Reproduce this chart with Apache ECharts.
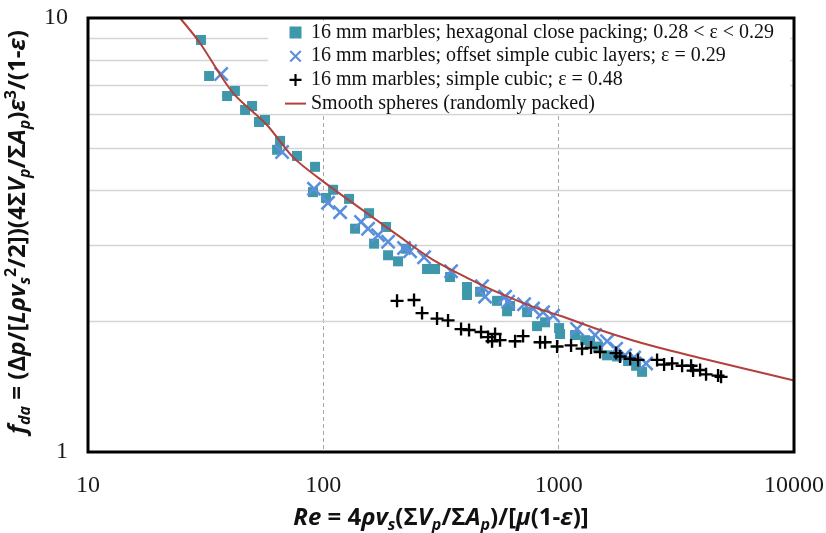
<!DOCTYPE html>
<html>
<head>
<meta charset="utf-8">
<script src="https://cdn.jsdelivr.net/npm/echarts@6/dist/echarts.min.js"></script>
<style>
  html, body { margin: 0; padding: 0; background: #fff; }
  #chart { width: 826px; height: 533px; }
</style>
</head>
<body>
<div id="chart"></div>
<script>
// Friction factor vs Reynolds number for 16 mm marble beds (log-log)

// Hexagonal close packing, 0.28 < eps < 0.29
const hcpRe = [30.2, 32.7, 39.0, 42.1, 46.5, 49.8, 53.3, 56.5, 65.5, 63.6, 77.3, 92.2, 90.4, 102.7, 110, 128.6,
  156.4, 136.4, 184.7, 164.3, 188.4, 207.7, 224.6, 275.9, 298.4, 345.6, 408, 408, 463.4, 547.3, 603.6, 621.6,
  734, 809.4, 875.6, 1004, 1014, 1174, 1295, 1359, 1471, 1606, 1771, 1972, 2133, 2262];
const hcpF = [8.90, 7.35, 6.61, 6.79, 6.14, 6.27, 5.76, 5.82, 5.21, 4.97, 4.81, 4.54, 3.97, 3.85, 4.02, 3.83,
  3.55, 3.27, 3.30, 3.02, 2.84, 2.75, 2.94, 2.64, 2.64, 2.53, 2.40, 2.30, 2.34, 2.23, 2.11, 2.17,
  2.10, 1.95, 1.99, 1.93, 1.87, 1.86, 1.81, 1.80, 1.75, 1.67, 1.66, 1.62, 1.58, 1.53];

// Offset simple cubic layers, eps = 0.29
const oscRe = [36.8, 66.8, 91.3, 104.7, 117.8, 144.6, 154.9, 170.8, 188.4, 220.3, 233.6, 267.9, 348.9, 472.6,
  486.7, 591.9, 609.5, 712.8, 778.3, 858.6, 946.6, 1197, 1428, 1606, 1754, 1915, 2092, 2352];
const oscF = [7.43, 4.91, 4.04, 3.75, 3.57, 3.39, 3.27, 3.16, 3.05, 2.95, 2.90, 2.81, 2.61, 2.41,
  2.28, 2.28, 2.22, 2.19, 2.14, 2.10, 2.06, 1.92, 1.86, 1.80, 1.73, 1.67, 1.65, 1.60];

// Simple cubic, eps = 0.48
const scRe = [205.7, 242.9, 262.7, 304.2, 338.8, 384.8, 416.1, 468, 501.2, 536.7, 521.2, 563.6, 652.8, 705.9,
  833.7, 875.6, 984.5, 1129, 1257, 1373, 1500, 1754, 1824, 2012, 2175, 2619, 2805, 3034, 3346, 3653, 3726,
  3990, 4230, 4757, 4899];
const scF = [2.23, 2.24, 2.09, 2.03, 2.01, 1.92, 1.91, 1.89, 1.84, 1.87, 1.80, 1.81, 1.80, 1.85,
  1.79, 1.79, 1.75, 1.76, 1.73, 1.74, 1.70, 1.69, 1.66, 1.64, 1.63, 1.63, 1.59, 1.60, 1.58, 1.58, 1.54,
  1.545, 1.51, 1.50, 1.49];

// Smooth spheres (randomly packed) correlation
const smoothRe = [24.6, 29.9, 41.3, 57.6, 74.3, 101.7, 153.4, 211.8, 292.6, 408, 563.6, 778.3, 1014, 1500,
  2071, 2888, 3990, 6508, 10000];
const smoothF = [10.0, 8.76, 6.72, 5.67, 4.78, 4.17, 3.55, 3.13, 2.77, 2.52, 2.32, 2.16, 2.06, 1.91,
  1.807, 1.72, 1.647, 1.545, 1.461];

// Horizontal reference lines and tick labels
const yGridValues = [2, 3, 4, 5, 6, 7, 8, 9];
const xTickLabels = ['10', '100', '1000', '10000'];
const yTickLabels = ['1', '10'];

const seriesNames = [
  '16 mm marbles; hexagonal close packing; 0.28 < ε < 0.29',
  '16 mm marbles; offset simple cubic layers; ε = 0.29',
  '16 mm marbles; simple cubic; ε = 0.48',
  'Smooth spheres (randomly packed)'
];

const zip = (xs, ys) => xs.map((x, i) => [x, ys[i]]);

const squarePath = 'path://M0,0H10V10H0Z';
const crossPath = 'path://M0,1.2L1.2,0L5,3.8L8.8,0L10,1.2L6.2,5L10,8.8L8.8,10L5,6.2L1.2,10L0,8.8L3.8,5Z';
const plusPath = 'path://M4.1,0H5.9V4.1H10V5.9H5.9V10H4.1V5.9H0V4.1H4.1Z';
const dashPath = 'path://M0,0H21V2H0Z';

const TEAL = '#3f97ab';
const BLUE = '#5a8fdc';
const RED = '#b2413d';

const TITLE_FONT = 'Open Sans';
const axisTitleRich = {
  n: { fontFamily: TITLE_FONT, fontWeight: 'bold', fontSize: 24, lineHeight: 30, color: '#111' },
  i: { fontFamily: TITLE_FONT, fontWeight: 'bold', fontStyle: 'italic', fontSize: 24, lineHeight: 30, color: '#111' },
  s: { fontFamily: TITLE_FONT, fontWeight: 'bold', fontStyle: 'italic', fontSize: 16, lineHeight: 17, verticalAlign: 'bottom', color: '#111' },
  p: { fontFamily: TITLE_FONT, fontWeight: 'bold', fontSize: 16, lineHeight: 17, verticalAlign: 'top', color: '#111' }
};

const chart = echarts.init(document.getElementById('chart'), null, { renderer: 'canvas' });

chart.setOption({
  animation: false,
  backgroundColor: '#fff',
  grid: {
    left: 88, right: 32, top: 18, bottom: 81, z: 10,
    containLabel: false, outerBoundsMode: 'none',
    show: true, borderColor: '#000', borderWidth: 3, backgroundColor: 'transparent'
  },
  legend: {
    data: [
      { name: seriesNames[0], icon: squarePath },
      { name: seriesNames[1], icon: crossPath },
      { name: seriesNames[2], icon: plusPath },
      { name: seriesNames[3], icon: dashPath }
    ],
    z: 2,
    orient: 'vertical',
    left: 268, top: 20.5,
    padding: [2, 16, 0, 17],
    itemWidth: 21, itemHeight: 12, itemGap: 3.7,
    backgroundColor: '#fff',
    selectedMode: false,
    textStyle: { fontFamily: 'Liberation Serif', fontSize: 20, lineHeight: 20, color: '#111' }
  },
  xAxis: {
    type: 'log', logBase: 10, min: 10, max: 10000,
    axisLine: { show: false },
    axisTick: { show: false },
    axisLabel: {
      margin: 22, fontFamily: 'Liberation Serif', fontSize: 24, color: '#1a1a1a',
      formatter: v => xTickLabels.find(t => Number(t) === Math.round(v)) || ''
    },
    splitLine: { show: true, lineStyle: { color: '#a8a8a8', type: [4, 3], width: 1 } },
    name: '{i|Re}{n| = 4}{i|ρv}{s|s}{n|(Σ}{i|V}{s|p}{n|/Σ}{i|A}{s|p}{n|)/[}{i|μ}{n|(1-}{i|ε}{n|)]}',
    nameLocation: 'middle', nameGap: 51,
    nameTextStyle: { rich: axisTitleRich }
  },
  yAxis: {
    type: 'log', logBase: 10, min: 1, max: 10,
    axisLine: { show: false },
    axisTick: { show: false },
    axisLabel: {
      margin: 20, fontFamily: 'Liberation Serif', fontSize: 24, color: '#1a1a1a',
      formatter: v => yTickLabels.find(t => Number(t) === Math.round(v)) || ''
    },
    splitLine: { show: false },
    name: '{i|f}{s|da}{n| = (Δ}{i|p}{n|/[}{i|Lρv}{s|s}{p|2}{n|/2])(4Σ}{i|V}{s|p}{n|/Σ}{i|A}{s|p}{n|)}{i|ε}{p|3}{n|/(1-}{i|ε}{n|)}',
    nameLocation: 'middle', nameGap: 50,
    nameTextStyle: { rich: axisTitleRich, padding: [0, 0, 0, 6] }
  },
  series: [
    {
      // light horizontal grid at 2..9
      type: 'line', name: 'grid', data: [], silent: true, z: 1,
      markLine: {
        z: 1, silent: true, symbol: 'none', label: { show: false },
        lineStyle: { color: '#d4d4d4', width: 1.4, type: 'solid' },
        data: yGridValues.map(v => ({ yAxis: v }))
      }
    },
    {
      name: seriesNames[0], type: 'scatter', data: zip(hcpRe, hcpF),
      symbol: squarePath, symbolSize: 10, itemStyle: { color: TEAL, opacity: 1 }, z: 3
    },
    {
      name: seriesNames[1], type: 'scatter', data: zip(oscRe, oscF),
      symbol: crossPath, symbolSize: 15, itemStyle: { color: BLUE, opacity: 1 }, z: 4
    },
    {
      name: seriesNames[2], type: 'scatter', data: zip(scRe, scF),
      symbol: plusPath, symbolSize: 13, itemStyle: { color: '#000', opacity: 1 }, z: 4
    },
    {
      name: seriesNames[3], type: 'line', data: zip(smoothRe, smoothF),
      smooth: 0.3, showSymbol: false, symbol: 'none', z: 5,
      lineStyle: { color: RED, width: 2 }, itemStyle: { color: RED }
    }
  ]
});
</script>
</body>
</html>
